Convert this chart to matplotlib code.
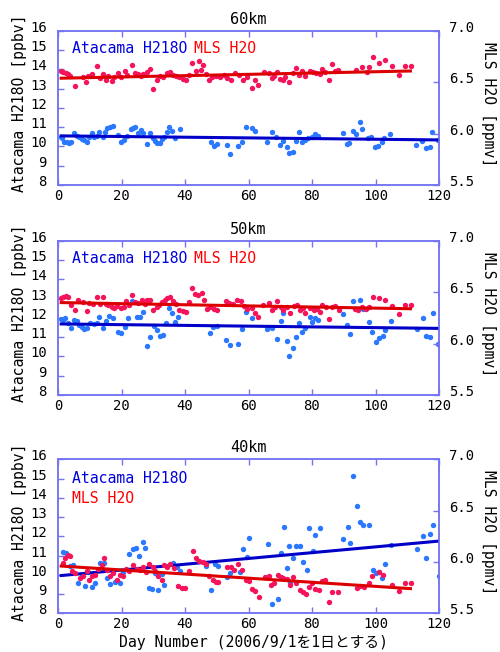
import matplotlib
matplotlib.use('Agg')
import matplotlib.pyplot as plt
from matplotlib.transforms import ScaledTranslation

plt.rcParams['font.family'] = ['DejaVu Sans Mono', 'Noto Sans CJK JP']

# ---------------- data ----------------
panel_titles = ["60km", "50km", "40km"]
x_ticks = [0, 20, 40, 60, 80, 100, 120]
left_ticks = [8, 9, 10, 11, 12, 13, 14, 15, 16]
right_ticks = [5.5, 6.0, 6.5, 7.0]
label_ata = "Atacama H218O"
label_mls = "MLS H2O"
ylabel_left = "Atacama H218O [ppbv]"
ylabel_right = "MLS H2O [ppmv]"
xlabel = "Day Number (2006/9/1を1日とする)"

# 60 km
day_60_ata = [0.9, 1.4, 1.9, 2.7, 3.5, 4.1, 5.0, 5.9, 6.7, 7.5,
              8.2, 9.0, 9.9, 10.6, 11.3, 12.2, 13.0, 14.1, 14.8, 15.5,
              16.4, 17.2, 19.0, 19.8, 20.8, 21.8, 22.9, 23.7, 24.4, 25.1,
              26.0, 26.9, 27.9, 29.0, 29.8, 30.7, 31.3, 32.1, 32.9, 33.5,
              34.2, 35.1, 35.8, 36.9, 38.4,
              48.1, 49.2, 50.2, 53.1, 54.2, 56.8, 57.8, 59.1,
              61.0, 62.1,
              65.7, 67.3, 68.8, 69.9, 70.9, 72.0, 72.8, 74.1, 75.1, 76.0,
              77.0, 77.8, 78.8, 79.9, 80.9, 82.0,
              89.8, 90.9, 91.7, 93.0, 94.0, 95.1, 95.9, 97.7, 98.7, 99.8,
              100.8, 101.9, 102.7, 104.7,
              112.9, 114.7, 116.0, 117.1, 117.8, 119.7]
val_60_ata = [10.51, 10.42, 10.25, 10.25, 10.2, 10.25, 10.68, 10.56, 10.48, 10.37,
              10.34, 10.25, 10.48, 10.68, 10.51, 10.55, 10.77, 10.51, 10.77, 10.94,
              11.03, 11.06, 10.6, 10.25, 10.34, 10.55, 10.91, 10.98, 11.0, 10.68,
              10.86, 10.72, 10.13, 10.68, 10.42, 10.3, 10.16, 10.16, 10.37, 10.48,
              10.77, 11.03, 10.82, 10.42, 10.89,
              10.25, 10.04, 10.13, 10.08, 9.59, 10.03, 10.25, 11.03,
              10.94, 10.8,
              10.25, 10.74, 10.51, 10.08, 10.3, 9.99, 9.68, 9.73, 10.3, 10.74,
              10.25, 10.34, 10.46, 10.51, 10.65, 10.55,
              10.68, 10.13, 10.2, 10.8, 10.65, 11.27, 10.89, 10.46, 10.48, 9.96,
              10.03, 10.25, 10.46, 10.65,
              10.08, 10.3, 9.9, 9.99, 10.74, 10.34]
day_60_mls = [0.8, 1.7, 2.4, 3.0, 3.8, 5.4, 7.8, 8.8, 9.6, 10.6,
              12.2, 13.2, 14.1, 15.1, 15.9, 16.9, 17.6, 19.0, 19.8, 21.1,
              21.8, 23.2, 24.3, 25.1, 26.0, 26.9, 27.9, 29.0, 30.0, 31.1,
              32.1, 33.2, 34.2, 35.3, 36.3, 37.2, 38.2, 39.3, 40.3, 41.4,
              42.1, 43.5, 44.4, 45.0, 45.6, 46.6, 47.7, 48.5, 49.8, 51.0,
              52.3, 53.3, 54.4, 55.7, 57.1, 58.4, 59.6, 61.0, 62.1, 63.1,
              64.9, 66.3, 67.3, 68.1, 68.9, 69.8, 70.9, 71.6, 72.9, 74.0,
              75.1, 75.8, 76.9, 77.9, 79.3, 80.3, 81.4, 82.4, 83.2, 84.2,
              85.3, 86.3, 87.4, 88.2, 94.0, 95.8, 97.2, 98.1, 99.3, 101.1,
              103.0, 105.1, 107.4, 109.2, 111.3]
val_60_mls = [6.61, 6.60, 6.59, 6.58, 6.56, 6.46, 6.55, 6.50, 6.56, 6.58,
              6.66, 6.54, 6.58, 6.52, 6.56, 6.51, 6.55, 6.59, 6.55, 6.61,
              6.57, 6.67, 6.59, 6.58, 6.56, 6.58, 6.60, 6.63, 6.43, 6.52,
              6.56, 6.55, 6.59, 6.60, 6.57, 6.56, 6.55, 6.53, 6.52, 6.57,
              6.69, 6.61, 6.71, 6.62, 6.67, 6.58, 6.52, 6.55, 6.56, 6.55,
              6.57, 6.54, 6.52, 6.59, 6.57, 6.52, 6.55, 6.44, 6.52, 6.47,
              6.60, 6.59, 6.54, 6.56, 6.60, 6.53, 6.52, 6.55, 6.50, 6.59,
              6.64, 6.57, 6.61, 6.56, 6.61, 6.60, 6.59, 6.58, 6.63, 6.60,
              6.52, 6.68, 6.61, 6.62, 6.62, 6.65, 6.60, 6.65, 6.75, 6.69,
              6.72, 6.66, 6.57, 6.66, 6.66]
fit_60_ata = [10.55, 10.34]
fit_60_mls = [6.54, 6.61]

# 50 km
day_50_ata = [0.8, 1.7, 2.2, 3.3, 4.1, 5.0, 5.9, 6.7, 7.5, 8.2,
              9.0, 10.1, 11.3, 12.2, 13.0, 14.1, 15.1, 16.2, 17.4, 19.0,
              19.8, 21.1, 22.2, 23.2, 24.8, 25.8, 26.9, 28.1, 29.0, 30.2,
              31.3, 32.1, 33.2, 34.0, 35.1, 35.8, 36.9, 37.9, 47.9, 48.9,
              50.0, 52.9, 54.2, 56.8, 58.1, 59.2, 61.1, 65.7, 67.3, 68.9,
              70.1, 71.0, 72.0, 72.8, 73.9, 75.0, 76.0, 77.0, 77.8, 79.3,
              80.0, 81.0, 82.0, 89.8, 91.1, 91.9, 93.0, 95.1, 96.1, 98.0,
              99.0, 100.2, 101.2, 102.3, 103.0, 104.9, 113.0, 114.9, 116.0, 117.2,
              118.0, 119.8]
val_50_ata = [11.93, 11.9, 11.98, 11.76, 11.46, 11.9, 11.86, 11.64, 11.52, 11.43,
              11.46, 11.72, 11.69, 11.76, 12.07, 11.46, 11.86, 12.1, 12.0, 11.26,
              11.24, 11.52, 11.98, 12.9, 12.03, 12.03, 12.33, 10.55, 11.0, 11.58,
              11.38, 11.07, 11.12, 11.72, 12.5, 12.24, 11.81, 12.03, 11.24, 11.52,
              11.58, 10.86, 10.6, 10.63, 11.43, 12.33, 11.98, 11.41, 11.46, 10.89,
              11.86, 12.24, 10.82, 10.04, 10.42, 11.0, 11.72, 11.26, 11.46, 12.07,
              11.81, 11.98, 11.9, 12.2, 11.64, 11.15, 12.9, 12.94, 12.45, 11.81,
              11.29, 10.77, 10.98, 11.08, 11.38, 11.84, 11.41, 11.98, 11.08, 11.0,
              12.28, 10.65]
day_50_mls = [0.8, 1.7, 2.5, 3.3, 4.1, 5.4, 6.4, 8.0, 9.0, 9.9,
              11.1, 12.2, 13.2, 14.1, 15.1, 15.9, 16.9, 17.6, 18.7, 19.8,
              20.8, 21.4, 22.5, 23.2, 24.3, 25.3, 26.4, 27.4, 28.1, 29.0,
              30.0, 31.1, 31.9, 32.9, 33.7, 34.4, 35.3, 36.3, 37.2, 38.2,
              39.3, 40.3, 41.4, 42.1, 43.2, 44.2, 45.2, 46.0, 47.0, 47.9,
              49.1, 50.0, 52.9, 54.0, 55.2, 56.5, 57.5, 58.6, 59.6, 61.0,
              62.1, 63.1, 64.7, 66.3, 67.3, 68.4, 69.1, 70.1, 71.0, 72.0,
              73.2, 74.2, 75.3, 76.3, 77.2, 77.9, 79.3, 80.6, 81.6, 82.5,
              83.2, 84.3, 85.3, 86.3, 87.4, 88.4, 93.7, 94.5, 95.8, 96.9,
              98.0, 99.3, 101.1, 103.0, 105.1, 107.4, 109.2, 111.3]
val_50_mls = [6.44, 6.45, 6.46, 6.45, 6.38, 6.33, 6.43, 6.41, 6.32, 6.40,
              6.39, 6.45, 6.39, 6.45, 6.39, 6.38, 6.36, 6.35, 6.37, 6.35,
              6.36, 6.42, 6.38, 6.47, 6.41, 6.40, 6.43, 6.39, 6.43, 6.43,
              6.33, 6.36, 6.38, 6.41, 6.43, 6.44, 6.45, 6.42, 6.39, 6.33,
              6.32, 6.31, 6.41, 6.54, 6.48, 6.47, 6.49, 6.43, 6.34, 6.36,
              6.34, 6.33, 6.42, 6.40, 6.39, 6.43, 6.42, 6.37, 6.34, 6.35,
              6.30, 6.26, 6.38, 6.40, 6.33, 6.36, 6.42, 6.36, 6.33, 6.36,
              6.30, 6.37, 6.38, 6.33, 6.35, 6.30, 6.35, 6.33, 6.34, 6.31,
              6.38, 6.36, 6.24, 6.36, 6.37, 6.33, 6.34, 6.33, 6.36, 6.34,
              6.36, 6.45, 6.44, 6.43, 6.37, 6.29, 6.38, 6.38]
fit_50_ata = [11.69, 11.46]
fit_50_mls = [6.40, 6.34]

# 40 km
day_40_ata = [1.5, 2.5, 3.8, 4.6, 6.4, 7.5, 8.5, 9.6, 10.6, 11.7,
              13.2, 14.5, 15.3, 16.4, 17.9, 19.5, 20.6, 22.5, 23.5, 24.6,
              25.6, 26.7, 27.4, 28.8, 29.5, 30.6, 31.6, 32.7, 33.4, 36.3,
              37.4, 38.4, 46.5, 48.1, 49.4, 50.5, 53.1, 54.2, 57.3, 58.4,
              59.4, 60.3, 66.2, 67.3, 69.4, 70.2, 71.3, 72.0, 72.8, 73.0,
              74.1, 75.1, 76.2, 77.2, 78.3, 79.1, 80.2, 81.0, 82.4, 89.9,
              91.2, 92.0, 93.0, 94.1, 95.2, 96.2, 98.1, 99.1, 100.2, 101.0,
              102.2, 103.1, 104.8, 113.0, 114.9, 116.0, 117.1, 118.1, 120.0]
val_40_ata = [11.2, 11.12, 10.46, 10.51, 9.59, 9.94, 9.42, 10.16, 9.35, 9.56,
              10.63, 10.63, 9.82, 9.52, 9.64, 9.59, 10.16, 11.08, 11.32, 11.38,
              11.0, 11.69, 11.38, 9.3, 9.25, 10.08, 9.21, 10.04, 9.47, 10.63,
              10.39, 10.2, 10.46, 9.21, 10.55, 10.46, 9.9, 10.08, 10.16, 11.34,
              10.94, 11.9, 11.6, 8.48, 8.73, 11.12, 12.47, 10.34, 11.5, 9.6,
              10.86, 11.5, 11.5, 10.68, 10.25, 12.42, 11.26, 12.07, 12.42, 11.84,
              12.47, 11.64, 15.13, 13.58, 12.76, 12.59, 12.59, 10.25, 10.08, 10.16,
              9.85, 10.56, 11.55, 11.32, 12.02, 10.86, 12.12, 12.59, 9.94]
day_40_mls = [1.5, 2.2, 3.3, 3.8, 4.3, 5.4, 6.9, 8.0, 9.0, 9.9,
              10.6, 11.7, 12.7, 13.8, 14.5, 15.3, 16.4, 17.4, 18.5, 19.5,
              20.4, 21.4, 22.5, 23.5, 24.8, 25.8, 26.7, 27.7, 28.8, 29.8,
              30.6, 31.6, 32.7, 33.4, 34.2, 35.3, 36.5, 37.9, 39.0, 40.0,
              41.4, 42.4, 43.5, 44.5, 45.6, 46.6, 47.7, 48.7, 49.8, 50.5,
              53.3, 54.4, 55.4, 56.8, 57.8, 59.2, 60.0, 61.0, 62.1, 63.2,
              65.3, 66.3, 67.1, 67.9, 69.2, 70.2, 71.0, 72.0, 73.1, 74.0,
              75.0, 76.1, 77.1, 78.2, 79.0, 80.0, 81.0, 82.1, 83.1, 84.2,
              85.3, 86.3, 88.1, 94.2, 95.2, 96.5, 97.8, 98.9, 101.0, 102.3,
              105.1, 107.4, 109.2, 111.3]
val_40_mls = [5.99, 6.04, 6.07, 6.06, 5.91, 5.89, 5.84, 5.86, 5.91, 5.82,
              5.86, 5.87, 5.93, 5.97, 6.04, 5.92, 5.86, 5.89, 5.82, 5.87,
              5.86, 5.93, 5.91, 5.97, 5.93, 5.92, 5.95, 5.90, 5.98, 5.95,
              5.91, 5.86, 5.82, 5.97, 5.95, 5.98, 5.94, 5.77, 5.75, 5.75,
              5.91, 6.11, 6.04, 6.01, 6.00, 5.98, 5.86, 5.82, 5.80, 5.80,
              5.95, 5.95, 5.92, 5.98, 5.92, 5.82, 5.81, 5.74, 5.72, 5.66,
              5.85, 5.86, 5.78, 5.79, 5.87, 5.85, 5.84, 5.83, 5.78, 5.85,
              5.79, 5.73, 5.71, 5.69, 5.76, 5.79, 5.74, 5.73, 5.81, 5.82,
              5.61, 5.71, 5.71, 5.75, 5.77, 5.76, 5.79, 5.86, 5.90, 5.87,
              5.78, 5.72, 5.79, 5.79]
fit_40_ata = [9.96, 11.75]
fit_40_mls = [5.96, 5.74]

fit_days_ata = [1, 120]
fit_days_mls = [1, 111]

# ---------------- style ----------------
SPINE = '#7474f4'
BLUE_DOT = '#2a78ff'
RED_DOT = '#f5145a'
BLUE_LINE = '#0000c8'
RED_LINE = '#dc0000'
BLUE_TXT = '#0000e0'
RED_TXT = '#ff0000'

fig = plt.figure(figsize=(5.0, 6.52), dpi=100)
rects = [[0.116, 0.7163, 0.762, 0.2362],
         [0.116, 0.3942, 0.762, 0.2362],
         [0.116, 0.0594, 0.762, 0.2362]]

panels = [
    (day_60_ata, val_60_ata, day_60_mls, val_60_mls, fit_60_ata, fit_60_mls),
    (day_50_ata, val_50_ata, day_50_mls, val_50_mls, fit_50_ata, fit_50_mls),
    (day_40_ata, val_40_ata, day_40_mls, val_40_mls, fit_40_ata, fit_40_mls),
]

up = ScaledTranslation(0, 0.045, fig.dpi_scale_trans)

for i, (rect, title, pdata) in enumerate(zip(rects, panel_titles, panels)):
    da, va, dm, vm, fa, fm = pdata
    ax = fig.add_axes(rect)
    ax2 = ax.twinx()
    ax.set_zorder(1)
    ax2.set_zorder(2)
    ax.patch.set_visible(True)

    ax.scatter(da, va, s=15, color=BLUE_DOT, linewidths=0, zorder=2)
    ax.plot(fit_days_ata, fa, color=BLUE_LINE, lw=2.2, zorder=3)
    ax2.scatter(dm, vm, s=15, color=RED_DOT, linewidths=0, zorder=2)
    ax2.plot(fit_days_mls, fm, color=RED_LINE, lw=2.2, zorder=3)

    ax.set_xlim(0, 120)
    ax.set_ylim(8, 16)
    ax2.set_ylim(5.5, 7.0)
    ax.set_xticks(x_ticks)
    ax.set_yticks(left_ticks)
    ax2.set_yticks(right_ticks)
    ax2.set_yticklabels([f"{t:.1f}" for t in right_ticks])

    ax.tick_params(axis='x', direction='in', length=4, width=1, color=SPINE,
                   top=True, labelsize=10, pad=3)
    ax.tick_params(axis='y', direction='in', length=4, width=1, color=SPINE,
                   right=False, labelsize=10, pad=8)
    ax2.tick_params(axis='y', direction='in', length=4, width=1, color=SPINE,
                    labelsize=10, pad=7)
    ax2.tick_params(axis='x', bottom=False, top=False, labelbottom=False)

    for a in (ax, ax2):
        for sp in a.spines.values():
            sp.set_color(SPINE)
            sp.set_linewidth(1.1)

    for lab in ax.get_yticklabels() + ax2.get_yticklabels():
        lab.set_transform(lab.get_transform() + up)

    ax.set_title(title, fontsize=11, pad=5)

    ax.text((20 - 58) / 381, 1 - (103.5 - 31) / 154, ylabel_left,
            transform=ax.transAxes, rotation=90, ha='center', va='center',
            fontsize=10.6)
    ax.text((489 - 58) / 381, 1 - (104 - 31) / 154, ylabel_right,
            transform=ax.transAxes, rotation=270, ha='center', va='center',
            fontsize=10.6)

    if i < 2:
        t1 = ax2.text(0.037, 0.883, label_ata, transform=ax.transAxes,
                      color=BLUE_TXT, fontsize=10.6, ha='left', va='center',
                      zorder=5)
        ax2.annotate(label_mls, xy=(1, 0.5), xycoords=t1, xytext=(5, 0),
                     textcoords='offset points', color=RED_TXT,
                     fontsize=10.6, ha='left', va='center', zorder=5)
    else:
        ax2.text(0.037, 0.877, label_ata, transform=ax.transAxes,
                 color=BLUE_TXT, fontsize=10.6, ha='left', va='center', zorder=5)
        ax2.text(0.037, 0.747, label_mls, transform=ax.transAxes,
                 color=RED_TXT, fontsize=10.6, ha='left', va='center', zorder=5)
        ax.text(0.512, -(643 - 613.3) / 154, xlabel, transform=ax.transAxes,
                ha='center', va='center', fontsize=10.6)

fig.savefig('out.png', dpi=100)
